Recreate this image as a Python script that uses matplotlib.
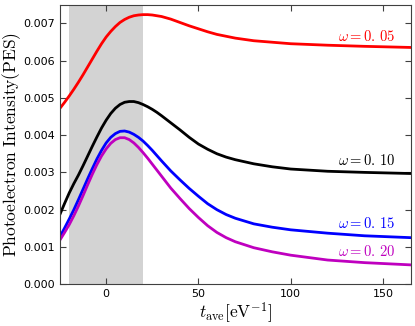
import numpy as np
import matplotlib
matplotlib.use('Agg')
import matplotlib.pyplot as plt

plt.rcParams['mathtext.fontset'] = 'cm'

# t_ave [eV^-1] sample points
t = [-25, -22.5, -20, -17.5, -15, -12.5, -10, -7.5, -5, -2.5, 0, 2.5, 5, 7.5,
     10, 12.5, 15, 17.5, 20, 22.5, 25, 27.5, 30,
     35, 40, 45, 50, 55, 60, 65, 70,
     80, 90, 100, 120, 140, 165]

# PES intensity (x 1e-3) for each omega
pes_005 = [4.72, 4.88, 5.05, 5.23, 5.42, 5.62, 5.83, 6.04, 6.25, 6.45, 6.63, 6.78,
           6.91, 7.02, 7.10, 7.16, 7.20, 7.22, 7.23, 7.23, 7.22, 7.20, 7.18,
           7.11, 7.02, 6.93, 6.85, 6.77, 6.70, 6.65, 6.60,
           6.53, 6.49, 6.45, 6.41, 6.38, 6.35]
pes_010 = [1.88, 2.17, 2.45, 2.70, 2.93, 3.18, 3.44, 3.70, 3.95, 4.19, 4.40, 4.58,
           4.72, 4.82, 4.88, 4.90, 4.90, 4.87, 4.82, 4.76, 4.69, 4.61, 4.52,
           4.33, 4.14, 3.94, 3.76, 3.62, 3.50, 3.41, 3.34,
           3.23, 3.15, 3.09, 3.03, 3.00, 2.97]
pes_015 = [1.28, 1.51, 1.75, 2.00, 2.27, 2.55, 2.83, 3.10, 3.36, 3.59, 3.79, 3.94,
           4.04, 4.10, 4.11, 4.08, 4.02, 3.94, 3.84, 3.72, 3.59, 3.45, 3.31,
           3.04, 2.80, 2.57, 2.36, 2.16, 2.00, 1.87, 1.77,
           1.62, 1.53, 1.46, 1.37, 1.30, 1.25]
pes_020 = [1.19, 1.39, 1.60, 1.84, 2.10, 2.38, 2.67, 2.95, 3.21, 3.44, 3.63, 3.78,
           3.88, 3.93, 3.93, 3.88, 3.79, 3.67, 3.53, 3.38, 3.22, 3.06, 2.90,
           2.58, 2.30, 2.03, 1.79, 1.57, 1.39, 1.25, 1.14,
           0.98, 0.87, 0.78, 0.65, 0.58, 0.52]

labels = [r'$\omega=0.\,05$', r'$\omega=0.\,10$', r'$\omega=0.\,15$', r'$\omega=0.\,20$']
colors = ['r', 'k', 'b', 'm']
label_y = [6.64, 3.33, 1.63, 0.87]

fig = plt.figure(figsize=(4.15, 3.26), dpi=100)
ax = fig.add_axes([0.1446, 0.128, 0.845, 0.858])

# pulse window
ax.axvspan(-20, 20, color='lightgrey', lw=0)

series = [pes_005, pes_010, pes_015, pes_020]
for y, c, lab, ly in zip(series, colors, labels, label_y):
    ax.plot(t, np.array(y) * 1e-3, color=c, lw=2)
    ax.text(157, ly * 1e-3, lab, color=c, fontsize=10.5, ha='right', va='center')

ax.set_xlim(-25, 165)
ax.set_ylim(0, 0.0075)
ax.set_xticks([0, 50, 100, 150])
ax.set_yticks(np.arange(0, 0.0071, 0.001))
ax.yaxis.set_major_formatter(matplotlib.ticker.FormatStrFormatter('%.3f'))
ax.tick_params(direction='in', top=True, right=True, length=4, color='0.25',
               labelsize=8)
for s in ax.spines.values():
    s.set_color('0.25')

ax.set_xlabel(r'$t_{\rm ave}[\rm eV^{-1}]$', fontsize=12.5)
ax.xaxis.set_label_coords(0.5, -0.06)
ax.set_ylabel(r'$\rm Photoelectron\ Intensity(PES)$', fontsize=12.5, va='center')
ax.yaxis.set_label_coords(-0.139, 0.5)

fig.savefig('out.png', dpi=100)
